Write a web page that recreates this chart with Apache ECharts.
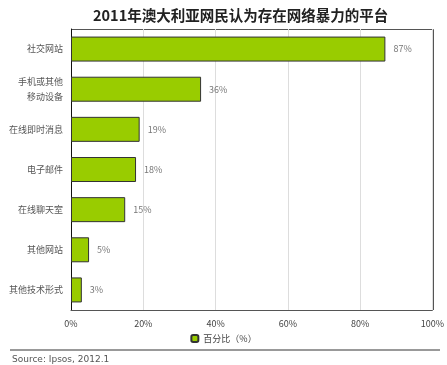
<!DOCTYPE html>
<html>
<head>
	<meta http-equiv="Content-Type" content="text/html;charset=utf-8">
	<title>2011年澳大利亚网民认为存在网络暴力的平台</title>
	<script src="https://cdn.jsdelivr.net/npm/echarts@6/dist/echarts.min.js"></script>
	<style>
	  html, body{ margin:0; padding:0; background:#fff; }
	  #chart{ width:447px; height:365px; }
	</style>
</head>
<body>
<div id="chart"></div>
<script>
	// 数据
	var categories = ['社交网站', '手机或其他\n移动设备', '在线即时消息', '电子邮件', '在线聊天室', '其他网站', '其他技术形式'];
	var values = [87, 36, 19, 18, 15, 5, 3];
	var xTicks = [0, 20, 40, 60, 80, 100];
	var seriesName = '百分比（%）';

	var font = '"Noto Sans CJK SC", "DejaVu Sans", sans-serif';

	var option = {
		animation: false,
		title: {
			text: '2011年澳大利亚网民认为存在网络暴力的平台',
			left: 88,
			top: 3,
			textStyle: { fontFamily: font, fontSize: 14.5, fontWeight: 'bold', color: '#222' }
		},
		legend: {
			data: [seriesName],
			bottom: 17,
			left: 'center',
			itemWidth: 7,
			itemHeight: 7,
			itemGap: 2,
			textStyle: { fontFamily: font, fontSize: 9, color: '#444' }
		},
		grid: { left: 71, right: 14, top: 29, bottom: 55 },
		xAxis: {
			type: 'value',
			min: 0,
			max: 100,
			interval: 20,
			axisLine: { show: true, lineStyle: { color: '#555' } },
			axisTick: { show: false },
			axisLabel: {
				fontFamily: font, fontSize: 9, color: '#444', margin: 9,
				formatter: function(v){ return xTicks.indexOf(v) > -1 ? v + '%' : ''; }
			},
			splitLine: { show: true, lineStyle: { color: '#ddd' } }
		},
		yAxis: {
			type: 'category',
			data: categories,
			inverse: true,
			axisLine: { show: true, lineStyle: { color: '#111' } },
			axisTick: { show: false },
			axisLabel: { fontFamily: font, fontSize: 9, color: '#555', margin: 8, lineHeight: 15 }
		},
		series: [{
			name: seriesName,
			type: 'bar',
			data: values,
			barWidth: 25,
			itemStyle: { color: '#99cc00', borderColor: '#333', borderWidth: 1 },
			label: {
				show: true,
				position: 'right',
				distance: 8,
				fontFamily: font,
				fontSize: 9,
				color: '#777',
				formatter: '{c}%'
			}
		}],
		graphic: [
			// 图表外框（上、右）
			{ type: 'polyline', shape: { points: [[71, 29.5], [433.5, 29.5], [433.5, 310]] }, style: { stroke: '#555', fill: null, lineWidth: 1 } },
			{ type: 'line', shape: { x1: 10, y1: 350, x2: 440, y2: 350 }, style: { stroke: '#999', lineWidth: 2 } },
			{ type: 'text', left: 12, top: 355, style: { text: 'Source: Ipsos, 2012.1', font: '9px "DejaVu Sans", sans-serif', fill: '#555' } }
		]
	};

	var myChart = echarts.init(document.getElementById('chart'));
	myChart.setOption(option);
</script>
</body>
</html>
